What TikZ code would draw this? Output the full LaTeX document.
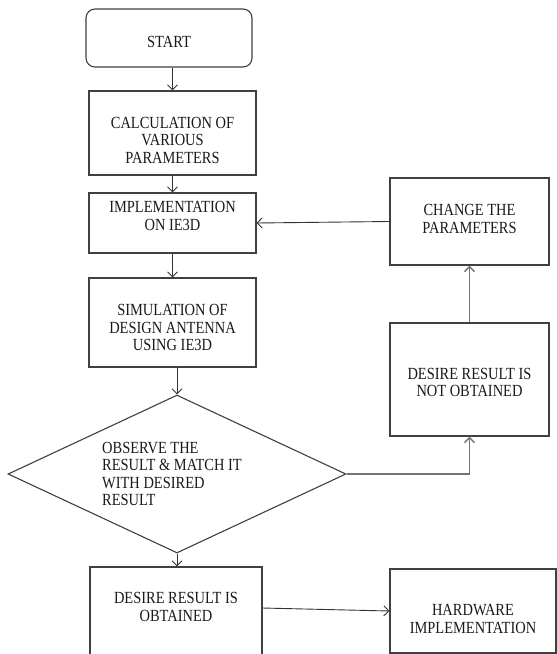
\documentclass[tikz,border=0pt]{standalone}
\usepackage{fontspec}
\setmainfont{Liberation Serif}[FakeStretch=0.85]
\usetikzlibrary{arrows.meta,shapes.geometric}

\begin{document}
\begin{tikzpicture}[x=1pt,y=-1pt,>={Straight Barb[length=5pt,width=10pt]},
  box/.style={draw=black!75,line width=1.1pt,inner sep=0pt},
  txt/.style={align=center,inner sep=0pt,text=black!90,
    font=\fontsize{17}{17.5}\selectfont},
  flow/.style={->,line width=0.9pt,black!80},
  back/.style={->,line width=1.4pt,black!55}]
  % Page frame
  \useasboundingbox[fill=white] (0,0) rectangle (557,654);

  % Main column
  \node[box,rounded corners=9pt,minimum width=166,minimum height=58] (start) at (169,38) {};
  \node[txt] (startt) at (169,42) {START};

  \node[box,minimum width=167,minimum height=84] (calc) at (172.5,133) {};
  \node[txt] (calct) at (172.5,140) {CALCULATION OF\\VARIOUS\\PARAMETERS};

  \node[box,minimum width=167,minimum height=60] (impl) at (172.5,223) {};
  \node[txt] (implt) at (172.5,216) {IMPLEMENTATION\\ON IE3D};

  \node[box,minimum width=167,minimum height=89] (sim) at (172.5,322.5) {};
  \node[txt] (simt) at (172.5,327.5) {SIMULATION OF\\DESIGN ANTENNA\\USING IE3D};

  % Decision
  \node[diamond,box,minimum width=338,minimum height=158] (obs) at (177,474) {};
  \node[txt,align=left,anchor=west] (obst) at (102,474) {OBSERVE THE\\RESULT \& MATCH IT\\WITH DESIRED\\RESULT};

  \node[box,minimum width=172,minimum height=90] (ok) at (176,612) {};
  \node[txt] (okt) at (176,607) {DESIRE RESULT IS\\OBTAINED};

  \node[box,minimum width=166,minimum height=84] (hw) at (473,611) {};
  \node[txt] (hwt) at (473,619) {HARDWARE\\IMPLEMENTATION};

  % Feedback column
  \node[box,minimum width=159,minimum height=113] (notok) at (469.5,379.5) {};
  \node[txt] (notokt) at (469.5,382.5) {DESIRE RESULT IS\\NOT OBTAINED};

  \node[box,minimum width=159,minimum height=87] (chg) at (469.5,221.5) {};
  \node[txt] (chgt) at (469.5,219) {CHANGE THE\\PARAMETERS};

  % Connectors
  \draw[flow] (calc.north |- start.south) -- (calc.north);
  \draw[flow] (calc.south) -- (impl.north);
  \draw[flow] (impl.south) -- (sim.north);
  \draw[flow] (obs.north |- sim.south) -- (obs.north);
  \draw[flow] (obs.south) -- (obs.south |- ok.north);
  \draw[flow] ([yshift=4pt]ok.east) -- (hw.west);
  \draw[back] (obs.east) -| (notok.south);
  \draw[back] (notok.north) -- (chg.south);
  \draw[flow] (chg.west) -- (impl.east);
\end{tikzpicture}
\end{document}
